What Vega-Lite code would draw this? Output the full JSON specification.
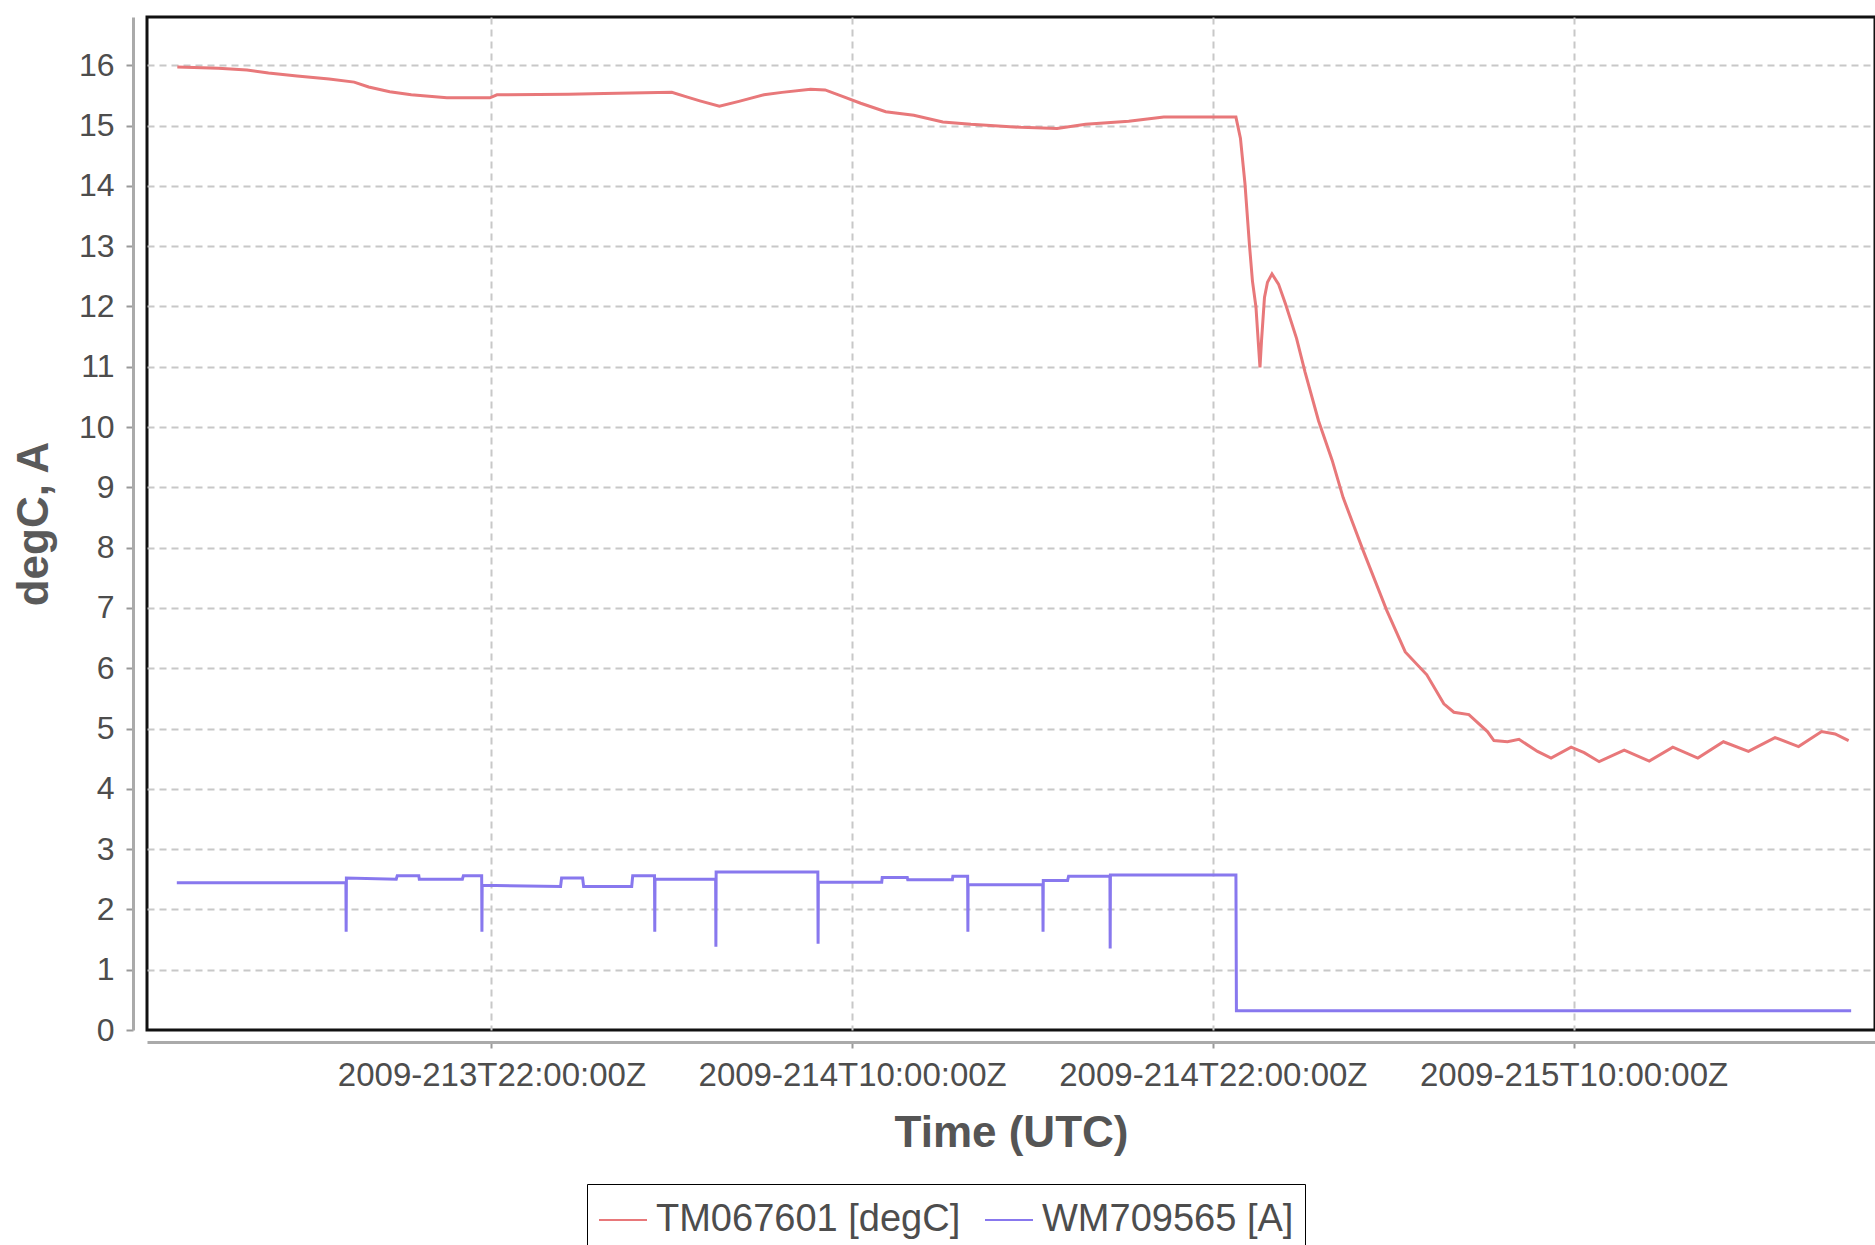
{
  "$schema": "https://vega.github.io/schema/vega-lite/v6.json",
  "autosize": {"type": "none"},
  "padding": {"left": 147, "top": 17, "right": 0, "bottom": 215},
  "width": 1728,
  "height": 1013,
  "background": "white",
  "config": {
    "view": {"stroke": "#111111", "strokeWidth": 3},
    "font": "Liberation Sans"
  },
  "datasets": {
    "rows": [
      {"t": "2009-08-01T11:33:00Z", "v": 15.97, "s": "TM067601 [degC]"},
      {"t": "2009-08-01T12:55:00Z", "v": 15.95, "s": "TM067601 [degC]"},
      {"t": "2009-08-01T13:52:00Z", "v": 15.92, "s": "TM067601 [degC]"},
      {"t": "2009-08-01T14:35:00Z", "v": 15.87, "s": "TM067601 [degC]"},
      {"t": "2009-08-01T15:32:00Z", "v": 15.82, "s": "TM067601 [degC]"},
      {"t": "2009-08-01T16:36:00Z", "v": 15.77, "s": "TM067601 [degC]"},
      {"t": "2009-08-01T17:26:00Z", "v": 15.72, "s": "TM067601 [degC]"},
      {"t": "2009-08-01T17:55:00Z", "v": 15.64, "s": "TM067601 [degC]"},
      {"t": "2009-08-01T18:37:00Z", "v": 15.56, "s": "TM067601 [degC]"},
      {"t": "2009-08-01T19:20:00Z", "v": 15.51, "s": "TM067601 [degC]"},
      {"t": "2009-08-01T20:31:00Z", "v": 15.46, "s": "TM067601 [degC]"},
      {"t": "2009-08-01T21:57:00Z", "v": 15.46, "s": "TM067601 [degC]"},
      {"t": "2009-08-01T22:11:00Z", "v": 15.51, "s": "TM067601 [degC]"},
      {"t": "2009-08-02T00:34:00Z", "v": 15.52, "s": "TM067601 [degC]"},
      {"t": "2009-08-02T01:45:00Z", "v": 15.53, "s": "TM067601 [degC]"},
      {"t": "2009-08-02T04:00:00Z", "v": 15.55, "s": "TM067601 [degC]"},
      {"t": "2009-08-02T04:28:00Z", "v": 15.48, "s": "TM067601 [degC]"},
      {"t": "2009-08-02T04:56:00Z", "v": 15.41, "s": "TM067601 [degC]"},
      {"t": "2009-08-02T05:35:00Z", "v": 15.32, "s": "TM067601 [degC]"},
      {"t": "2009-08-02T06:14:00Z", "v": 15.40, "s": "TM067601 [degC]"},
      {"t": "2009-08-02T07:04:00Z", "v": 15.51, "s": "TM067601 [degC]"},
      {"t": "2009-08-02T07:40:00Z", "v": 15.55, "s": "TM067601 [degC]"},
      {"t": "2009-08-02T08:37:00Z", "v": 15.60, "s": "TM067601 [degC]"},
      {"t": "2009-08-02T09:06:00Z", "v": 15.59, "s": "TM067601 [degC]"},
      {"t": "2009-08-02T09:42:00Z", "v": 15.48, "s": "TM067601 [degC]"},
      {"t": "2009-08-02T10:17:00Z", "v": 15.37, "s": "TM067601 [degC]"},
      {"t": "2009-08-02T11:07:00Z", "v": 15.23, "s": "TM067601 [degC]"},
      {"t": "2009-08-02T12:03:00Z", "v": 15.17, "s": "TM067601 [degC]"},
      {"t": "2009-08-02T13:01:00Z", "v": 15.06, "s": "TM067601 [degC]"},
      {"t": "2009-08-02T13:57:00Z", "v": 15.02, "s": "TM067601 [degC]"},
      {"t": "2009-08-02T15:37:00Z", "v": 14.97, "s": "TM067601 [degC]"},
      {"t": "2009-08-02T16:49:00Z", "v": 14.95, "s": "TM067601 [degC]"},
      {"t": "2009-08-02T17:46:00Z", "v": 15.02, "s": "TM067601 [degC]"},
      {"t": "2009-08-02T19:12:00Z", "v": 15.07, "s": "TM067601 [degC]"},
      {"t": "2009-08-02T20:22:00Z", "v": 15.14, "s": "TM067601 [degC]"},
      {"t": "2009-08-02T22:46:00Z", "v": 15.14, "s": "TM067601 [degC]"},
      {"t": "2009-08-02T22:55:00Z", "v": 14.79, "s": "TM067601 [degC]"},
      {"t": "2009-08-02T23:04:00Z", "v": 14.04, "s": "TM067601 [degC]"},
      {"t": "2009-08-02T23:13:00Z", "v": 13.02, "s": "TM067601 [degC]"},
      {"t": "2009-08-02T23:19:00Z", "v": 12.42, "s": "TM067601 [degC]"},
      {"t": "2009-08-02T23:26:00Z", "v": 11.99, "s": "TM067601 [degC]"},
      {"t": "2009-08-02T23:31:00Z", "v": 11.36, "s": "TM067601 [degC]"},
      {"t": "2009-08-02T23:34:00Z", "v": 10.99, "s": "TM067601 [degC]"},
      {"t": "2009-08-02T23:37:00Z", "v": 11.42, "s": "TM067601 [degC]"},
      {"t": "2009-08-02T23:43:00Z", "v": 12.15, "s": "TM067601 [degC]"},
      {"t": "2009-08-02T23:49:00Z", "v": 12.40, "s": "TM067601 [degC]"},
      {"t": "2009-08-02T23:58:00Z", "v": 12.54, "s": "TM067601 [degC]"},
      {"t": "2009-08-03T00:11:00Z", "v": 12.37, "s": "TM067601 [degC]"},
      {"t": "2009-08-03T00:25:00Z", "v": 12.04, "s": "TM067601 [degC]"},
      {"t": "2009-08-03T00:47:00Z", "v": 11.47, "s": "TM067601 [degC]"},
      {"t": "2009-08-03T01:04:00Z", "v": 10.91, "s": "TM067601 [degC]"},
      {"t": "2009-08-03T01:31:00Z", "v": 10.10, "s": "TM067601 [degC]"},
      {"t": "2009-08-03T01:58:00Z", "v": 9.45, "s": "TM067601 [degC]"},
      {"t": "2009-08-03T02:20:00Z", "v": 8.83, "s": "TM067601 [degC]"},
      {"t": "2009-08-03T03:00:00Z", "v": 7.95, "s": "TM067601 [degC]"},
      {"t": "2009-08-03T03:47:00Z", "v": 6.96, "s": "TM067601 [degC]"},
      {"t": "2009-08-03T04:24:00Z", "v": 6.27, "s": "TM067601 [degC]"},
      {"t": "2009-08-03T05:07:00Z", "v": 5.89, "s": "TM067601 [degC]"},
      {"t": "2009-08-03T05:41:00Z", "v": 5.41, "s": "TM067601 [degC]"},
      {"t": "2009-08-03T06:01:00Z", "v": 5.27, "s": "TM067601 [degC]"},
      {"t": "2009-08-03T06:31:00Z", "v": 5.23, "s": "TM067601 [degC]"},
      {"t": "2009-08-03T07:08:00Z", "v": 4.95, "s": "TM067601 [degC]"},
      {"t": "2009-08-03T07:21:00Z", "v": 4.80, "s": "TM067601 [degC]"},
      {"t": "2009-08-03T07:48:00Z", "v": 4.78, "s": "TM067601 [degC]"},
      {"t": "2009-08-03T08:11:00Z", "v": 4.82, "s": "TM067601 [degC]"},
      {"t": "2009-08-03T08:48:00Z", "v": 4.62, "s": "TM067601 [degC]"},
      {"t": "2009-08-03T09:15:00Z", "v": 4.51, "s": "TM067601 [degC]"},
      {"t": "2009-08-03T09:55:00Z", "v": 4.69, "s": "TM067601 [degC]"},
      {"t": "2009-08-03T10:21:00Z", "v": 4.60, "s": "TM067601 [degC]"},
      {"t": "2009-08-03T10:51:00Z", "v": 4.45, "s": "TM067601 [degC]"},
      {"t": "2009-08-03T11:41:00Z", "v": 4.64, "s": "TM067601 [degC]"},
      {"t": "2009-08-03T12:31:00Z", "v": 4.46, "s": "TM067601 [degC]"},
      {"t": "2009-08-03T13:18:00Z", "v": 4.69, "s": "TM067601 [degC]"},
      {"t": "2009-08-03T14:08:00Z", "v": 4.51, "s": "TM067601 [degC]"},
      {"t": "2009-08-03T14:59:00Z", "v": 4.78, "s": "TM067601 [degC]"},
      {"t": "2009-08-03T15:49:00Z", "v": 4.62, "s": "TM067601 [degC]"},
      {"t": "2009-08-03T16:42:00Z", "v": 4.85, "s": "TM067601 [degC]"},
      {"t": "2009-08-03T17:29:00Z", "v": 4.70, "s": "TM067601 [degC]"},
      {"t": "2009-08-03T18:15:00Z", "v": 4.95, "s": "TM067601 [degC]"},
      {"t": "2009-08-03T18:42:00Z", "v": 4.91, "s": "TM067601 [degC]"},
      {"t": "2009-08-03T19:09:00Z", "v": 4.80, "s": "TM067601 [degC]"},

      {"t": "2009-08-01T11:32:00Z", "v": 2.44, "s": "WM709565 [A]"},
      {"t": "2009-08-01T17:09:30Z", "v": 2.44, "s": "WM709565 [A]"},
      {"t": "2009-08-01T17:10:00Z", "v": 1.63, "s": "WM709565 [A]"},
      {"t": "2009-08-01T17:10:30Z", "v": 2.52, "s": "WM709565 [A]"},
      {"t": "2009-08-01T18:50:00Z", "v": 2.50, "s": "WM709565 [A]"},
      {"t": "2009-08-01T18:52:00Z", "v": 2.56, "s": "WM709565 [A]"},
      {"t": "2009-08-01T19:35:00Z", "v": 2.56, "s": "WM709565 [A]"},
      {"t": "2009-08-01T19:36:00Z", "v": 2.50, "s": "WM709565 [A]"},
      {"t": "2009-08-01T21:02:00Z", "v": 2.50, "s": "WM709565 [A]"},
      {"t": "2009-08-01T21:04:00Z", "v": 2.56, "s": "WM709565 [A]"},
      {"t": "2009-08-01T21:40:30Z", "v": 2.56, "s": "WM709565 [A]"},
      {"t": "2009-08-01T21:41:00Z", "v": 1.63, "s": "WM709565 [A]"},
      {"t": "2009-08-01T21:41:30Z", "v": 2.40, "s": "WM709565 [A]"},
      {"t": "2009-08-02T00:18:00Z", "v": 2.38, "s": "WM709565 [A]"},
      {"t": "2009-08-02T00:20:00Z", "v": 2.52, "s": "WM709565 [A]"},
      {"t": "2009-08-02T01:02:00Z", "v": 2.52, "s": "WM709565 [A]"},
      {"t": "2009-08-02T01:04:00Z", "v": 2.38, "s": "WM709565 [A]"},
      {"t": "2009-08-02T02:40:00Z", "v": 2.38, "s": "WM709565 [A]"},
      {"t": "2009-08-02T02:42:00Z", "v": 2.56, "s": "WM709565 [A]"},
      {"t": "2009-08-02T03:25:30Z", "v": 2.56, "s": "WM709565 [A]"},
      {"t": "2009-08-02T03:26:00Z", "v": 1.63, "s": "WM709565 [A]"},
      {"t": "2009-08-02T03:26:30Z", "v": 2.50, "s": "WM709565 [A]"},
      {"t": "2009-08-02T05:27:30Z", "v": 2.50, "s": "WM709565 [A]"},
      {"t": "2009-08-02T05:28:00Z", "v": 1.38, "s": "WM709565 [A]"},
      {"t": "2009-08-02T05:28:30Z", "v": 2.62, "s": "WM709565 [A]"},
      {"t": "2009-08-02T08:51:30Z", "v": 2.62, "s": "WM709565 [A]"},
      {"t": "2009-08-02T08:52:00Z", "v": 1.43, "s": "WM709565 [A]"},
      {"t": "2009-08-02T08:52:30Z", "v": 2.45, "s": "WM709565 [A]"},
      {"t": "2009-08-02T10:59:00Z", "v": 2.45, "s": "WM709565 [A]"},
      {"t": "2009-08-02T11:00:00Z", "v": 2.53, "s": "WM709565 [A]"},
      {"t": "2009-08-02T11:50:00Z", "v": 2.53, "s": "WM709565 [A]"},
      {"t": "2009-08-02T11:51:00Z", "v": 2.49, "s": "WM709565 [A]"},
      {"t": "2009-08-02T13:20:00Z", "v": 2.49, "s": "WM709565 [A]"},
      {"t": "2009-08-02T13:21:00Z", "v": 2.55, "s": "WM709565 [A]"},
      {"t": "2009-08-02T13:50:30Z", "v": 2.55, "s": "WM709565 [A]"},
      {"t": "2009-08-02T13:51:00Z", "v": 1.63, "s": "WM709565 [A]"},
      {"t": "2009-08-02T13:51:30Z", "v": 2.41, "s": "WM709565 [A]"},
      {"t": "2009-08-02T16:20:30Z", "v": 2.41, "s": "WM709565 [A]"},
      {"t": "2009-08-02T16:21:00Z", "v": 1.63, "s": "WM709565 [A]"},
      {"t": "2009-08-02T16:21:30Z", "v": 2.48, "s": "WM709565 [A]"},
      {"t": "2009-08-02T17:10:00Z", "v": 2.48, "s": "WM709565 [A]"},
      {"t": "2009-08-02T17:12:00Z", "v": 2.55, "s": "WM709565 [A]"},
      {"t": "2009-08-02T18:34:30Z", "v": 2.55, "s": "WM709565 [A]"},
      {"t": "2009-08-02T18:35:00Z", "v": 1.35, "s": "WM709565 [A]"},
      {"t": "2009-08-02T18:35:30Z", "v": 2.57, "s": "WM709565 [A]"},
      {"t": "2009-08-02T22:46:00Z", "v": 2.57, "s": "WM709565 [A]"},
      {"t": "2009-08-02T22:47:00Z", "v": 0.32, "s": "WM709565 [A]"},
      {"t": "2009-08-03T19:14:00Z", "v": 0.32, "s": "WM709565 [A]"}
    ]
  },
  "data": {"name": "rows"},
  "mark": {"type": "line", "strokeWidth": 3, "clip": true},
  "encoding": {
    "x": {
      "field": "t",
      "type": "temporal",
      "scale": {
        "type": "utc",
        "nice": false,
        "domain": [
          {"year": 2009, "month": 8, "date": 1, "hours": 10, "minutes": 32, "seconds": 30, "utc": true},
          {"year": 2009, "month": 8, "date": 3, "hours": 20, "minutes": 1, "seconds": 36, "utc": true}
        ]
      },
      "axis": {
        "values": [
          {"year": 2009, "month": 8, "date": 1, "hours": 22, "utc": true},
          {"year": 2009, "month": 8, "date": 2, "hours": 10, "utc": true},
          {"year": 2009, "month": 8, "date": 2, "hours": 22, "utc": true},
          {"year": 2009, "month": 8, "date": 3, "hours": 10, "utc": true}
        ],
        "labelExpr": "utcFormat(datum.value, '%Y-%jT%H:%M:%SZ')",
        "title": "Time (UTC)",
        "offset": 12,
        "grid": true,
        "gridDash": [7, 5],
        "gridColor": "#c8c8c8",
        "gridWidth": 2,
        "domainColor": "#aaaaaa",
        "domainWidth": 3,
        "tickColor": "#999999",
        "tickSize": 6,
        "tickWidth": 2,
        "labelFontSize": 33,
        "labelColor": "#4d4d4d",
        "labelPadding": 11,
        "labelFlush": false,
        "labelOverlap": false,
        "labelLimit": 0,
        "titleFontSize": 44,
        "titleFontWeight": "bold",
        "titleColor": "#555555",
        "titlePadding": 19
      }
    },
    "y": {
      "field": "v",
      "type": "quantitative",
      "scale": {"domain": [0, 16.8], "nice": false, "zero": false},
      "axis": {
        "values": [0, 1, 2, 3, 4, 5, 6, 7, 8, 9, 10, 11, 12, 13, 14, 15, 16],
        "title": "degC, A",
        "offset": 14,
        "grid": true,
        "gridDash": [7, 5],
        "gridColor": "#c8c8c8",
        "gridWidth": 2,
        "gridOpacity": {"condition": {"test": "datum.value === 0", "value": 0}, "value": 1},
        "domainColor": "#aaaaaa",
        "domainWidth": 3,
        "tickColor": "#999999",
        "tickSize": 7,
        "tickWidth": 2,
        "labelFontSize": 32,
        "labelColor": "#4d4d4d",
        "labelPadding": 12,
        "labelFlush": false,
        "labelOverlap": false,
        "titleFontSize": 44,
        "titleFontWeight": "bold",
        "titleColor": "#5a5a5a",
        "titlePadding": 22
      }
    },
    "color": {
      "field": "s",
      "type": "nominal",
      "scale": {
        "domain": ["TM067601 [degC]", "WM709565 [A]"],
        "range": ["#e8787a", "#8878ee"]
      },
      "legend": {
        "title": null,
        "orient": "none",
        "legendX": 440,
        "legendY": 1167,
        "direction": "horizontal",
        "symbolType": "stroke",
        "symbolSize": 2304,
        "symbolStrokeWidth": 2,
        "labelFontSize": 38,
        "labelColor": "#4d4d4d",
        "labelOffset": 8,
        "labelLimit": 0,
        "columnPadding": 20,
        "padding": 11,
        "strokeColor": "#000000"
      }
    }
  }
}
